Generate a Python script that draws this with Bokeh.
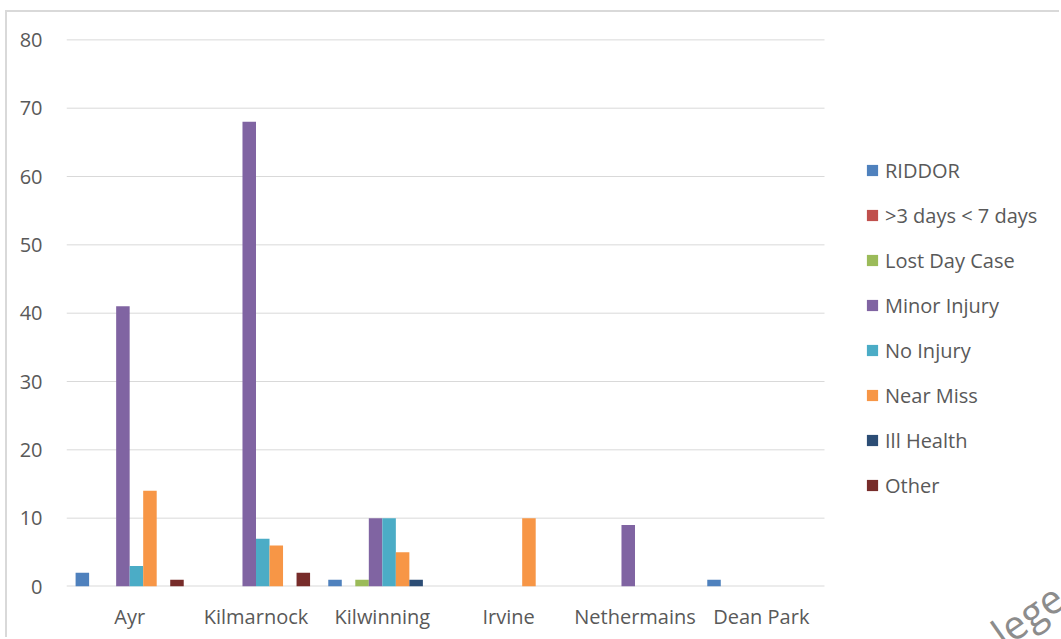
from bokeh.plotting import figure
from bokeh.models import FixedTicker, Legend, LegendItem, ColumnDataSource, Div
from bokeh.layouts import column
from bokeh.transform import dodge
from bokeh.embed import file_html
from bokeh.resources import INLINE

# Incident counts by site and category
sites = ["Ayr", "Kilmarnock", "Kilwinning", "Irvine", "Nethermains", "Dean Park"]
series = ["RIDDOR", ">3 days < 7 days", "Lost Day Case", "Minor Injury",
          "No Injury", "Near Miss", "Ill Health", "Other"]
riddor = [2, 0, 1, 0, 0, 1]
days_3_7 = [0, 0, 0, 0, 0, 0]
lost_day = [0, 0, 1, 0, 0, 0]
minor_injury = [41, 68, 10, 0, 9, 0]
no_injury = [3, 7, 10, 0, 0, 0]
near_miss = [14, 6, 5, 10, 0, 0]
ill_health = [0, 0, 1, 0, 0, 0]
other = [1, 2, 0, 0, 0, 0]
y_ticks = [0, 10, 20, 30, 40, 50, 60, 70, 80]

values = [riddor, days_3_7, lost_day, minor_injury, no_injury, near_miss,
          ill_health, other]
colors = ["#4F81BD", "#C0504D", "#9BBB59", "#8064A2", "#4BACC6", "#F79646",
          "#2C4D75", "#772C2A"]

FONT = "Open Sans"
TEXT = "#595959"
GRID = "#D9D9D9"

n = len(sites)
centers = [k + 0.5 for k in range(n)]
cat_px = (824 - 66) / n           # pixel width of one site slot
frame_w = 1054 - 59               # plot frame reaches the right edge; legend sits inside it

p = figure(width=1054, height=627, x_range=(0, frame_w / cat_px),
           y_range=(0, 80.2), output_backend="svg", toolbar_location=None,
           min_border_left=59, min_border_right=0, min_border_top=26,
           min_border_bottom=53)
p.outline_line_color = None
p.background_fill_color = "white"
p.border_fill_color = "white"
p.margin = (10, 0, 0, 5)
p.styles = {"border-top": f"2px solid {GRID}", "border-left": f"2px solid {GRID}"}

# Horizontal gridlines, only across the category area
p.xgrid.grid_line_color = None
p.ygrid.grid_line_color = None
p.segment(x0=0, x1=n, y0=y_ticks[1:], y1=y_ticks[1:], line_color=GRID,
          line_width=1)
p.segment(x0=0, x1=n, y0=0, y1=0, line_color=GRID, line_width=2.2)

src = ColumnDataSource(dict(xc=centers, **{f"s{i}": v for i, v in enumerate(values)}))

bw = 0.107
items = []
for i, (name, col) in enumerate(zip(series, colors)):
    r = p.vbar(x=dodge("xc", (i - 3.5) * bw), top=f"s{i}", width=bw,
               source=src, fill_color=col, line_color=None)
    items.append(LegendItem(label=name, renderers=[r]))

# Axes
p.yaxis.ticker = FixedTicker(ticks=y_ticks)
p.xaxis.ticker = FixedTicker(ticks=centers)
p.xaxis.major_label_overrides = {c: s for c, s in zip(centers, sites)}
for ax in (p.xaxis, p.yaxis):
    ax.axis_line_color = None
    ax.major_tick_line_color = None
    ax.minor_tick_line_color = None
    ax.major_label_text_font = FONT
    ax.major_label_text_font_size = "20px"
    ax.major_label_text_color = TEXT
p.yaxis.major_label_standoff = 18
p.xaxis.major_label_standoff = 10

legend = Legend(items=items, location=(799, 86), orientation="vertical",
                glyph_width=14, glyph_height=14, label_height=30,
                spacing=15, label_standoff=6, padding=0, margin=0,
                label_text_font=FONT, label_text_font_size="20px",
                label_text_color=TEXT, background_fill_alpha=0,
                border_line_color=None)
p.add_layout(legend, "center")

# Page watermark
mark = Div(text="lege", styles={
    "position": "absolute", "left": "984px", "top": "590px",
    "transform": "rotate(-35deg)", "font-family": FONT, "font-size": "40px",
    "color": "#8C8C8C", "line-height": "1"})

layout = column(p, mark, spacing=0)
open("out.html", "w").write(file_html(layout, INLINE))
